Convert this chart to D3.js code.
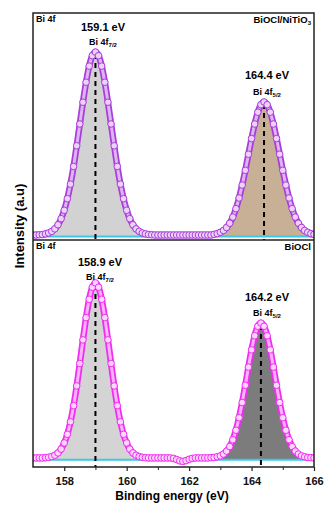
<!DOCTYPE html>
<html><head><meta charset="utf-8">
<script src="https://cdn.jsdelivr.net/npm/d3@7"></script>
<style>body{margin:0;background:#fff}svg{display:block}text{font-family:Arial,"Liberation Sans",sans-serif;font-weight:bold}</style>
</head><body>
<svg id="c" width="326" height="509"></svg>
<script>
// Binding energy grid (eV)
const energy = d3.range(0, 91).map(i => +(157 + i * 0.1).toFixed(1));
// BiOCl/NiTiO3 intensity (a.u.)
const topIntensity = [
 2.2,2.2,2.3,2.4,2.7,3.1,3.8,4.9,6.7,9.4,
 13.1,18.2,24.6,32.4,41.5,51.1,60.7,69.5,76.6,81.2,
 82.8,81.2,76.6,69.5,60.7,51.1,41.5,32.4,24.6,18.2,
 13.1,9.4,6.7,4.9,3.8,3.1,2.7,2.4,2.3,2.2,
 2.2,2.2,2.2,2.2,2.2,2.2,2.2,2.2,2.2,2.2,
 2.2,2.2,2.2,2.2,2.2,2.2,2.2,2.2,2.5,2.8,
 3.4,4.2,5.5,7.4,10.1,13.8,18.5,24.2,30.7,37.8,
 44.7,51.1,56.3,59.6,60.8,59.6,56.3,51.1,44.7,37.8,
 30.7,24.2,18.5,13.8,10.1,7.4,5.5,4.2,3.4,2.8,2.5];
// BiOCl intensity
const botIntensity = [
 4.0,4.0,4.0,4.0,4.1,4.3,4.6,5.2,6.2,7.9,
 10.6,14.4,19.9,27.0,35.7,45.6,56.0,65.8,73.9,79.2,
 81.1,79.2,73.9,65.8,56.0,45.6,35.7,27.0,19.9,14.4,
 10.6,7.9,6.2,5.2,4.6,4.3,4.1,4.0,4.0,4.0,
 4.0,4.0,4.0,4.0,4.0,3.8,3.3,2.7,2.5,2.8,
 3.4,3.8,4.0,4.0,4.0,4.0,4.0,4.1,4.2,4.5,
 4.9,5.7,7.0,9.0,12.0,16.2,21.7,28.4,36.0,44.0,
 51.6,57.8,62.0,63.4,62.0,57.8,51.6,44.0,36.0,28.4,
 21.7,16.2,12.0,9.0,7.0,5.7,4.9,4.5,4.2,4.1,4.0];
const topBaseline = [1.5];
const botBaseline = [3.2];
const topPeaks = [159.0, 164.4];
const botPeaks = [159.0, 164.3];
const topPeakLabels = ["159.1 eV", "164.4 eV"];
const botPeakLabels = ["158.9 eV", "164.2 eV"];
const peakNames = [["Bi 4f","7/2"],["Bi 4f","5/2"]];
const panelNames = ["BiOCl/NiTiO", "BiOCl"];
const xTicks = [158, 160, 162, 164, 166];
const xMinor = [159, 161, 163, 165];

const svg = d3.select("#c");
const L = 33, R = 314, T = 13, M = 240, B = 467;
const x = d3.scaleLinear().domain([157, 166]).range([L, R]);

function panel(y0, y1, vals, base, peaks, labels, name, sub, col, fillCol, fills, lblPos) {
  const y = d3.scaleLinear().domain([0, 100]).range([y1, y0]);
  const g = svg.append("g");
  const clipId = "clip" + y0;
  svg.append("clipPath").attr("id", clipId).append("rect").attr("x", L).attr("y", y0).attr("width", R - L).attr("height", y1 - y0);
  g.attr("clip-path", `url(#${clipId})`);
  const pts = energy.map((e, i) => ({e, v: vals[i]}));
  const split = 161.7;
  const area = d3.area().x(d => x(d.e)).y0(y(base[0])).y1(d => y(d.v)).curve(d3.curveMonotoneX);
  g.append("path").datum(pts.filter(d => d.e <= split)).attr("d", area).attr("fill", fills[0]).attr("stroke", "#b8b8b8").attr("stroke-width", 0.6);
  g.append("path").datum(pts.filter(d => d.e >= split)).attr("d", area).attr("fill", fills[1]);
  g.append("line").attr("x1", L).attr("x2", R).attr("y1", y(base[0])).attr("y2", y(base[0])).attr("stroke", "#3cc8e6").attr("stroke-width", 2);
  const line = d3.line().x(d => x(d.e)).y(d => y(d.v)).curve(d3.curveMonotoneX);
  g.append("path").datum(pts).attr("d", line).attr("fill", "none").attr("stroke", "#3cc8e6").attr("stroke-width", 1.5);
  peaks.forEach((p, i) => {
    const iv = energy.findIndex(e => Math.abs(e - p) < 0.05);
    g.append("line").attr("x1", x(p)).attr("x2", x(p)).attr("y1", y(vals[iv]) + 2).attr("y2", y1)
      .attr("stroke", "#000").attr("stroke-width", 2).attr("stroke-dasharray", "5,4");
  });
  g.append("path").datum(pts).attr("d", line).attr("fill", "none").attr("stroke", col).attr("stroke-width", 6.5).attr("stroke-linejoin", "round");
  g.append("path").datum(pts).attr("d", line).attr("fill", "none").attr("stroke", fillCol).attr("stroke-width", 3).attr("stroke-linejoin", "round").attr("opacity", 0.8);
  g.selectAll("circle.d").data(pts).join("circle").attr("cx", d => x(d.e)).attr("cy", d => y(d.v)).attr("r", 3.3)
    .attr("fill", fillCol).attr("stroke", col).attr("stroke-width", 1);
  peaks.forEach((p, i) => {
    const lp = lblPos[i];
    svg.append("text").attr("x", lp[0]).attr("y", lp[1]).attr("text-anchor", "middle").attr("font-size", 11).text(labels[i]);
    const t = svg.append("text").attr("x", lp[0]).attr("y", lp[2]).attr("text-anchor", "middle").attr("font-size", 9);
    t.append("tspan").text(peakNames[i][0]);
    t.append("tspan").attr("font-size", 6).attr("dy", 2).text(peakNames[i][1]);
  });
  svg.append("text").attr("x", L + 3).attr("y", y0 + 9).attr("font-size", 9).text("Bi 4f");
  const nt = svg.append("text").attr("x", R - 3).attr("y", y0 + 10).attr("text-anchor", "end").attr("font-size", 9.5);
  nt.append("tspan").text(name);
  if (sub) nt.append("tspan").attr("font-size", 6).attr("dy", 2).text(sub);
}

panel(T, M, topIntensity, topBaseline, topPeaks, topPeakLabels, panelNames[0], "3", "#a93ddb", "#ecd2f8", ["#d2d2d2", "#c8b096"], [[103, 31, 45], [267, 79, 95]]);
panel(M, B, botIntensity, botBaseline, botPeaks, botPeakLabels, panelNames[1], null, "#f02cf0", "#ffd6ff", ["#d4d4d4", "#7c7c7c"], [[100, 266, 280], [267, 301, 316]]);

svg.append("rect").attr("x", L).attr("y", T).attr("width", R - L).attr("height", B - T).attr("fill", "none").attr("stroke", "#222").attr("stroke-width", 1.5);
svg.append("line").attr("x1", L).attr("x2", R).attr("y1", M).attr("y2", M).attr("stroke", "#222").attr("stroke-width", 1.5);

const ax = svg.append("g").attr("transform", `translate(0,${B})`);
ax.call(d3.axisBottom(x).tickValues(xTicks).tickSize(4).tickFormat(d3.format("d")))
  .call(g => g.select(".domain").remove())
  .call(g => g.selectAll("line").attr("stroke", "#222").attr("stroke-width", 1.2))
  .call(g => g.selectAll("text").attr("font-size", 11).attr("fill", "#111").attr("dy", "1.0em").attr("font-family", "Arial, 'Liberation Sans', sans-serif").attr("font-weight", "bold"));
svg.append("g").attr("transform", `translate(0,${B})`).call(d3.axisBottom(x).tickValues(xMinor).tickSize(3).tickFormat(""))
  .call(g => g.select(".domain").remove())
  .call(g => g.selectAll("line").attr("stroke", "#222").attr("stroke-width", 1));

svg.append("text").attr("x", 172).attr("y", 500).attr("text-anchor", "middle").attr("font-size", 12).text("Binding energy (eV)");
svg.append("text").attr("transform", "translate(24,226) rotate(-90)").attr("text-anchor", "middle").attr("font-size", 13).text("Intensity (a.u)");
</script>
</body></html>
